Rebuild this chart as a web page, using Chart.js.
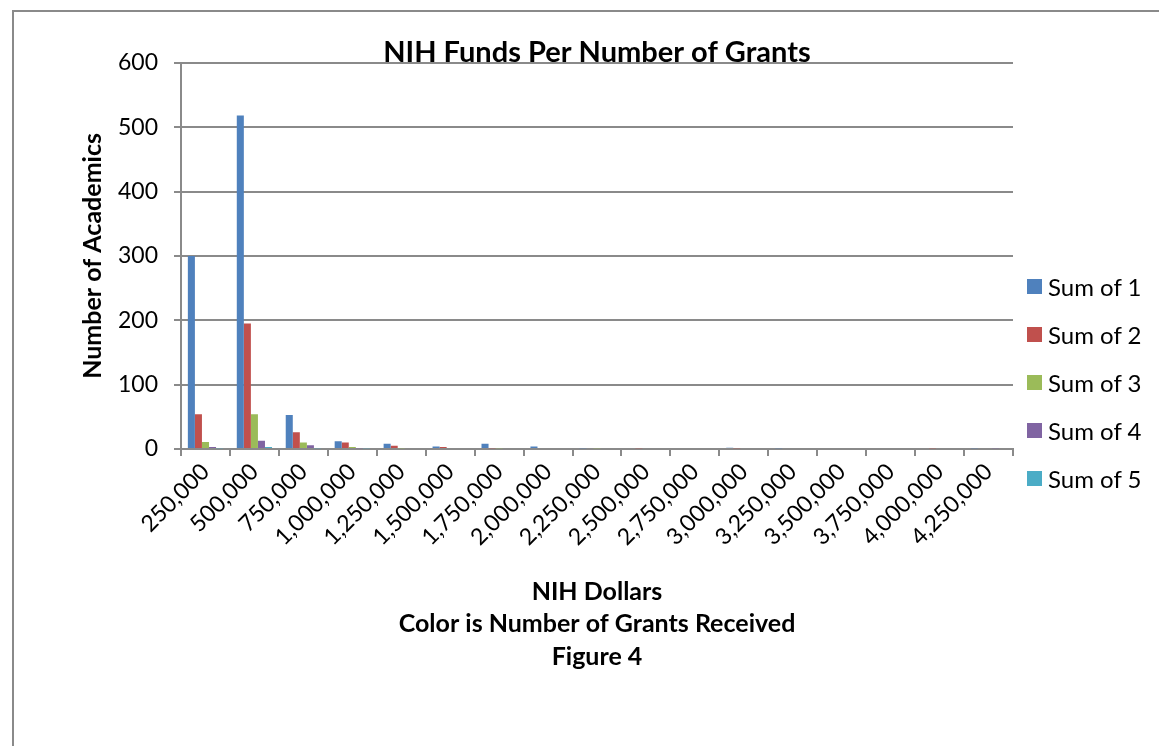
<!DOCTYPE html>
<html>
<head>
<meta charset="utf-8">
<script src="https://cdn.jsdelivr.net/npm/chart.js@4"></script>
<style>
  html, body { margin: 0; padding: 0; background: #fff; }
  #wrap { position: relative; width: 1159px; height: 746px; overflow: hidden; }
  #frame { position: absolute; left: 12px; top: 10px; width: 1200px; height: 800px;
           border-left: 2px solid #8a8a8a; border-top: 2px solid #8a8a8a; }
  #chart { position: absolute; left: 0; top: 0; }
  #legend { position: absolute; left: 1027px; top: 262px; font-family: Lato, sans-serif;
            font-size: 24px; color: #000; }
  #legend div { height: 48px; display: flex; align-items: center; }
  #legend span.box { width: 15px; height: 15px; margin-right: 6px; display: inline-block; }
</style>
</head>
<body>
<div id="wrap">
  <div id="frame"></div>
  <canvas id="chart" width="1159" height="746"></canvas>
  <div id="legend"></div>
</div>
<script>
const categories = ['250,000', '500,000', '750,000', '1,000,000', '1,250,000', '1,500,000',
    '1,750,000', '2,000,000', '2,250,000', '2,500,000', '2,750,000', '3,000,000',
    '3,250,000', '3,500,000', '3,750,000', '4,000,000', '4,250,000'];

const sum1 = [300, 518, 53, 12, 8, 4, 8, 4, 1, 0, 0, 2, 1, 0, 0, 0, 1];
const sum2 = [54, 195, 26, 10, 5, 3, 1, 0, 0, 1, 0, 1, 0, 0, 0, 1, 0];
const sum3 = [11, 54, 10, 3, 1, 0, 1, 0, 1, 0, 0, 0, 0, 0, 0, 0, 0];
const sum4 = [3, 13, 6, 1, 0, 0, 0, 0, 0, 0, 0, 0, 0, 0, 0, 0, 1];
const sum5 = [1, 3, 1, 1, 0, 0, 0, 0, 0, 0, 0, 0, 0, 0, 0, 0, 0];

const seriesNames = ['Sum of 1', 'Sum of 2', 'Sum of 3', 'Sum of 4', 'Sum of 5'];
const seriesColors = ['#4F81BD', '#C0504D', '#9BBB59', '#8064A2', '#4BACC6'];

const yTicks = [0, 100, 200, 300, 400, 500, 600];

const FONT = 'Lato, sans-serif';
const GRID = '#8a8a8a';

const datasets = [sum1, sum2, sum3, sum4, sum5].map((d, i) => ({
    label: seriesNames[i],
    data: d,
    backgroundColor: seriesColors[i],
    borderWidth: 0,
    categoryPercentage: 0.72,
    barPercentage: 1.0
}));

const chart = new Chart(document.getElementById('chart'), {
    type: 'bar',
    data: { labels: categories, datasets: datasets },
    options: {
        responsive: false,
        animation: false,
        layout: { padding: { left: 68, right: 146, top: 0, bottom: 73 } },
        plugins: {
            legend: { display: false },
            tooltip: { enabled: false },
            title: {
                display: true,
                fullSize: false,
                text: 'NIH Funds Per Number of Grants',
                color: '#000',
                font: { family: FONT, size: 29, weight: 'bold', lineHeight: 1.2 },
                padding: { top: 35, bottom: -7 }
            }
        },
        scales: {
            x: {
                afterFit: s => { s.height = 224; },
                grid: { drawOnChartArea: false, drawTicks: true, tickLength: 7, color: GRID, lineWidth: 2 },
                border: { color: GRID, width: 2 },
                ticks: {
                    autoSkip: false, minRotation: 45, maxRotation: 45,
                    color: '#000', padding: 2,
                    font: { family: FONT, size: 23 }
                },
                title: {
                    display: true,
                    text: ['NIH Dollars', 'Color is Number of Grants Received', 'Figure 4'],
                    color: '#000',
                    font: { family: FONT, size: 25, weight: 'bold', lineHeight: 1.3 },
                    padding: { top: 0, bottom: 0 }
                }
            },
            y: {
                min: 0, max: 600,
                afterFit: s => { s.width = 181 - 68; },
                afterBuildTicks: s => { s.ticks = yTicks.map(v => ({ value: v })); },
                grid: { color: GRID, lineWidth: 2, tickLength: 7 },
                border: { color: GRID, width: 2 },
                ticks: { color: '#000', padding: 16, font: { family: FONT, size: 23 } },
                title: {
                    display: true,
                    text: 'Number of Academics',
                    color: '#000',
                    font: { family: FONT, size: 25, weight: 'bold', lineHeight: 1.2 },
                    padding: { top: 10, bottom: 0 }
                }
            }
        }
    }
});

// legend built from the chart datasets
const legendEl = document.getElementById('legend');
chart.data.datasets.forEach(ds => {
    const row = document.createElement('div');
    const box = document.createElement('span');
    box.className = 'box';
    box.style.background = ds.backgroundColor;
    row.appendChild(box);
    row.appendChild(document.createTextNode(ds.label));
    legendEl.appendChild(row);
});
</script>
</body>
</html>
